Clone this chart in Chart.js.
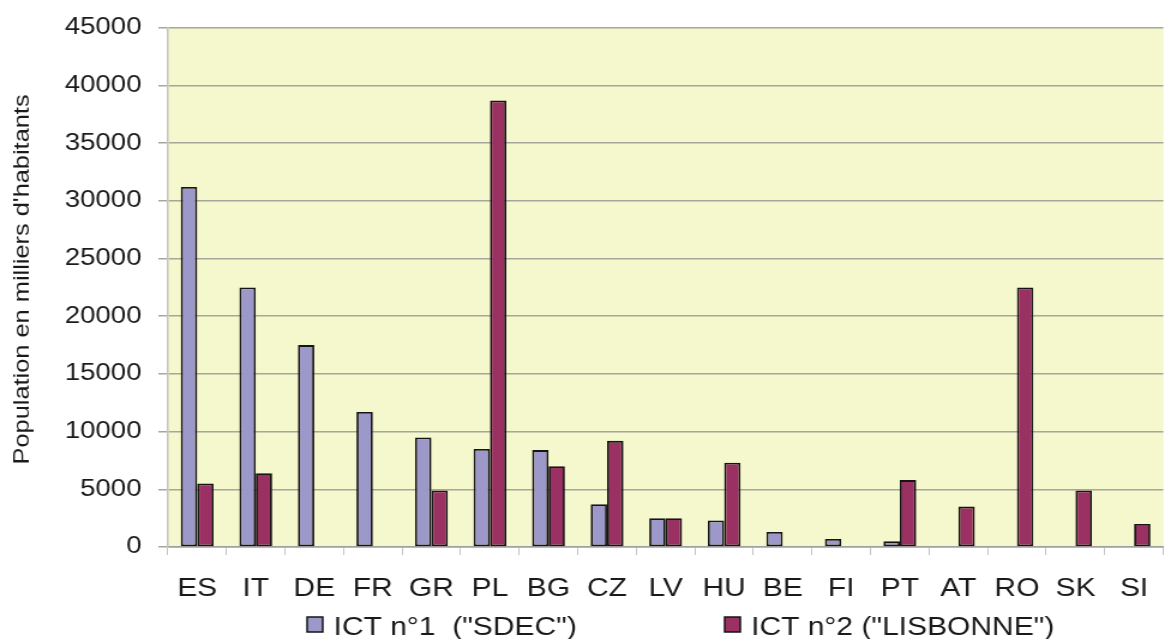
<!DOCTYPE html>
<html>
<head>
<meta charset="utf-8">
<script src="https://cdn.jsdelivr.net/npm/chart.js@4/dist/chart.umd.min.js"></script>
<style>
  html, body { margin: 0; padding: 0; background: #fff; }
</style>
</head>
<body>
<!-- l'image d'origine est étirée en largeur : on dessine sur 976 px et on affiche sur 1171 -->
<canvas id="myChart" width="976" height="639" style="width:1171px;height:639px;display:block"></canvas>
<script>
// pays
var pays = ["ES", "IT", "DE", "FR", "GR", "PL", "BG", "CZ", "LV", "HU", "BE", "FI", "PT", "AT", "RO", "SK", "SI"];
// population en milliers d'habitants
var ict1 = [31200, 22500, 17500, 11700, 9500, 8500, 8400, 3700, 2500, 2300, 1300, 700, 500, 0, 0, 0, 0];
var ict2 = [5500, 6400, 0, 0, 4900, 38700, 7000, 9200, 2500, 7300, 0, 0, 5800, 3500, 22500, 4900, 2000];
var yTicks = [0, 5000, 10000, 15000, 20000, 25000, 30000, 35000, 40000, 45000];
var titreY = "Population en milliers d'habitants";

Chart.defaults.font.family = "'Liberation Sans', Arial, sans-serif";
Chart.defaults.color = "#1a1a1a";

// fond jaune de la zone de tracé
var fondZone = {
  id: "fondZone",
  beforeDraw: function (chart) {
    var a = chart.chartArea;
    var ctx = chart.ctx;
    ctx.save();
    ctx.fillStyle = "#f5f7cc";
    ctx.fillRect(a.left, a.top, a.right - a.left, a.bottom - a.top);
    ctx.restore();
  },
};

// titre de l'axe Y, plus étroit et plus long que le reste du texte
var titreAxe = {
  id: "titreAxe",
  afterDraw: function (chart) {
    var ctx = chart.ctx;
    var a = chart.chartArea;
    ctx.save();
    ctx.font = "18px 'Liberation Sans', Arial, sans-serif";
    ctx.fillStyle = "#1a1a1a";
    var w = ctx.measureText(titreY).width;
    ctx.translate(19, (a.top + a.bottom) / 2 - 8);
    ctx.rotate(-Math.PI / 2);
    ctx.scale(370 / w, 1);
    ctx.textAlign = "center";
    ctx.textBaseline = "middle";
    ctx.fillText(titreY, 0, 0);
    ctx.restore();
  },
};

// légende dessinée à la main (deux entrées très espacées)
var legendeBas = {
  id: "legendeBas",
  afterDraw: function (chart) {
    var ctx = chart.ctx;
    var xs = [256, 604];
    ctx.save();
    ctx.font = "25px 'Liberation Sans', Arial, sans-serif";
    ctx.textBaseline = "alphabetic";
    chart.data.datasets.forEach(function (ds, i) {
      ctx.fillStyle = ds.backgroundColor;
      ctx.fillRect(xs[i], 617, 13, 15);
      ctx.strokeStyle = "#151515";
      ctx.lineWidth = 1.5;
      ctx.strokeRect(xs[i], 617, 13, 15);
      ctx.fillStyle = "#1a1a1a";
      ctx.fillText(ds.label, xs[i] + 22, 635);
    });
    ctx.restore();
  },
};

var ctx = document.getElementById("myChart").getContext("2d");
var myChart = new Chart(ctx, {
  type: "bar",
  data: {
    labels: pays,
    datasets: [
      {
        label: 'ICT n°1  ("SDEC")',
        data: ict1,
        backgroundColor: "#9c98c9",
        borderColor: "#151515",
        borderWidth: 1.8,
        borderSkipped: false,
      },
      {
        label: 'ICT n°2 ("LISBONNE")',
        data: ict2,
        backgroundColor: "#9a3162",
        borderColor: "#151515",
        borderWidth: 1.8,
        borderSkipped: false,
      },
    ],
  },
  options: {
    responsive: false,
    devicePixelRatio: 1,
    animation: false,
    layout: { padding: { top: 10, left: 40, right: 0, bottom: 16 } },
    datasets: {
      bar: { categoryPercentage: 0.56, barPercentage: 1.0 },
    },
    scales: {
      x: {
        grid: {
          offset: true,
          drawOnChartArea: false,
          drawTicks: true,
          tickLength: 8,
          color: "#c4c4c4",
        },
        border: { color: "#a0a0a0", width: 1.5 },
        ticks: { font: { size: 25 }, padding: 19, color: "#1a1a1a", maxRotation: 0 },
      },
      y: {
        min: 0,
        max: 45000,
        afterBuildTicks: function (axis) {
          axis.ticks = yTicks.map(function (v) { return { value: v }; });
        },
        grid: { color: "#a6a69c", lineWidth: 1.5, tickLength: 8 },
        border: { color: "#c4c4c4", width: 1.5 },
        ticks: {
          font: { size: 23 },
          padding: 14,
          color: "#1a1a1a",
          callback: function (v) { return String(v); },
        },
      },
    },
    plugins: {
      legend: { display: false },
      tooltip: { enabled: false },
    },
  },
  plugins: [fondZone, titreAxe, legendeBas],
});
</script>
</body>
</html>
